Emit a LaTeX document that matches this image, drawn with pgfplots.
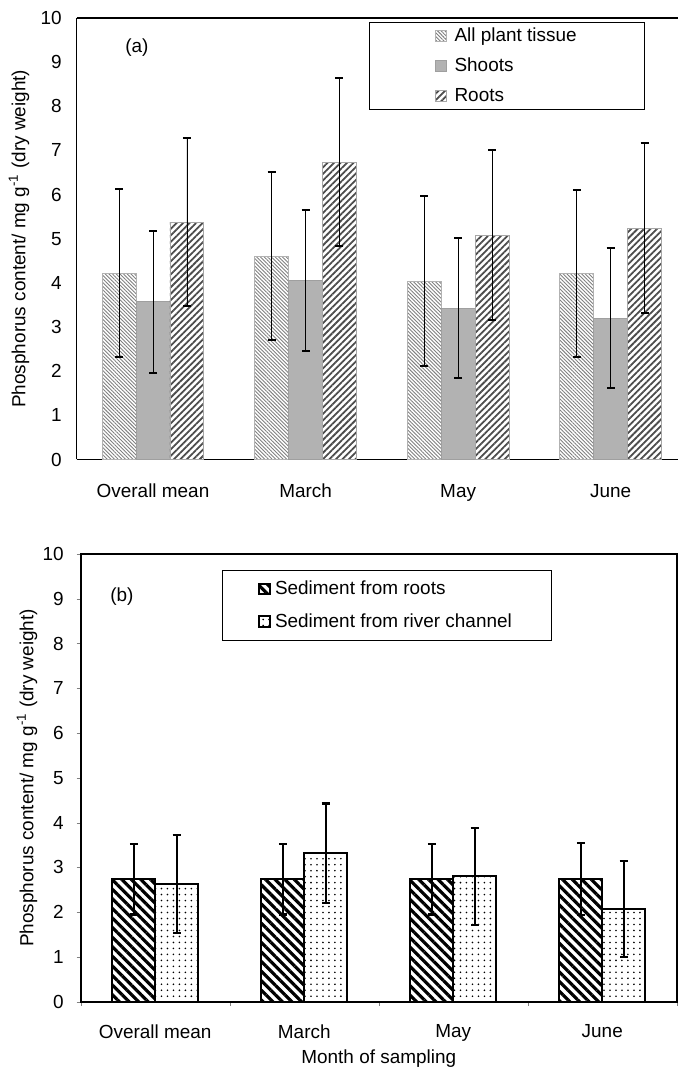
\documentclass[border=0pt]{standalone}
\usepackage{fontspec}
\setmainfont{Liberation Sans}
\usepackage{pgfplots}
\usepackage{pgfplotstable}
\pgfplotsset{compat=1.18}
\usetikzlibrary{patterns.meta}

% (a) plant tissue, error = one standard deviation
\pgfplotstableread{
x   all  allerr shoot shooterr root rooterr
0.5 4.22 1.90   3.57  1.60     5.37 1.90
1.5 4.60 1.90   4.06  1.60     6.73 1.90
2.5 4.04 1.92   3.43  1.58     5.08 1.92
3.5 4.22 1.89   3.20  1.59     5.24 1.92
}\plantdata

% (b) sediment
\pgfplotstableread{
x   root rooterr chan chanerr
0.5 2.74 0.79    2.63 1.09
1.5 2.74 0.79    3.32 1.11
2.5 2.74 0.79    2.80 1.08
3.5 2.74 0.80    2.07 1.07
}\sedimentdata

\pgfplotsset{
  every axis/.append style={font=\fontsize{9.5}{11}\selectfont},
  sq legend/.style={legend image code/.code={\draw[##1] (0pt,-2.7pt) rectangle (5.4pt,2.7pt);}},
}

\begin{document}
\begin{tikzpicture}
\begin{axis}[
  at={(0pt,0pt)}, anchor=south west, scale only axis,
  width=301.5pt, height=221.5pt,
  xmin=0, xmax=3.94, ymin=0, ymax=10,
  ybar=0pt, bar width=17pt,
  axis x line*=box, axis y line*=left, axis line style={-, line width=0.7pt},
  ytick={0,...,10}, xtick={0.5,1.5,2.5,3.5},
  xticklabels={Overall mean,March,May,June},
  tick style={draw=none},
  /pgf/number format/assume math mode=true,
  yticklabel style={xshift=-4pt}, xticklabel style={yshift=-4.5pt},
  ylabel={Phosphorus content/ mg g\textsuperscript{-1} (dry weight)},
  ylabel style={at={(axis description cs:-0.096,0.5)}, anchor=center},
  legend cell align=left,
  legend style={at={(axis description cs:0.486,0.991)}, anchor=north west,
    draw=black, inner xsep=33pt, inner ysep=1.5pt, row sep=4.9pt,
    nodes={inner sep=1pt}, /tikz/every odd column/.append style={column sep=3pt}},
  error bars/y dir=both, error bars/y explicit,
  error bars/error bar style={line width=0.4pt, black},
  error bars/error mark options={rotate=90, mark size=2pt, line width=1pt, black},
]
\addplot[sq legend, draw=gray!60,
  pattern={Lines[angle=-45,distance=1.3pt,line width=0.45pt]}, pattern color=gray]
  table[x=x, y=all, y error=allerr] {\plantdata};
\addlegendentry{All plant tissue}
\addplot[sq legend, draw=gray!75, fill=gray!60]
  table[x=x, y=shoot, y error=shooterr] {\plantdata};
\addlegendentry{Shoots}
\addplot[sq legend, draw=gray!70,
  pattern={Lines[angle=45,distance=2.3pt,line width=0.9pt]}, pattern color=black!70]
  table[x=x, y=root, y error=rooterr] {\plantdata};
\addlegendentry{Roots}
\node at (axis description cs:0.1,0.932) {(a)};
\end{axis}

\begin{axis}[
  at={(2pt,-272pt)}, anchor=south west, scale only axis,
  width=299pt, height=224.5pt,
  xmin=0, xmax=4, ymin=0, ymax=10,
  ybar=0pt, bar width=21.5pt,
  axis line style={line width=0.8pt},
  ytick={0,...,10}, xtick={0,...,4},
  xticklabels={Overall mean,March,May,June}, x tick label as interval,
  tick align=outside, major tick length=2pt, xtick pos=bottom, ytick pos=left,
  /pgf/number format/assume math mode=true,
  yticklabel style={xshift=-3pt}, xticklabel style={yshift=-6pt},
  ylabel={Phosphorus content/ mg g\textsuperscript{-1} (dry weight)},
  ylabel style={at={(axis description cs:-0.09,0.5)}, anchor=center},
  xlabel={Month of sampling},
  xlabel style={at={(axis description cs:0.5,0)}, anchor=center, yshift=-28.5pt},
  legend cell align=left,
  legend style={at={(axis description cs:0.237,0.964)}, anchor=north west,
    draw=black, inner xsep=18pt, inner ysep=3pt, row sep=4pt},
  error bars/y dir=both, error bars/y explicit,
  error bars/error bar style={line width=0.9pt, black},
  error bars/error mark options={rotate=90, mark size=2pt, line width=1.2pt, black},
]
\addplot[sq legend, draw=black, line width=1pt,
  pattern={Lines[angle=-45,distance=3.4pt,line width=1.6pt]}, pattern color=black]
  table[x=x, y=root, y error=rooterr] {\sedimentdata};
\addlegendentry{Sediment from roots}
\addplot[sq legend, draw=black, line width=1pt,
  pattern={Dots[distance=3pt,radius=0.45pt]}, pattern color=black]
  table[x=x, y=chan, y error=chanerr] {\sedimentdata};
\addlegendentry{Sediment from river channel}
\node at (axis description cs:0.069,0.906) {(b)};
\end{axis}
\path (-38.5pt,230.5pt) rectangle (302.5pt,-306.5pt);
\end{tikzpicture}
\end{document}
